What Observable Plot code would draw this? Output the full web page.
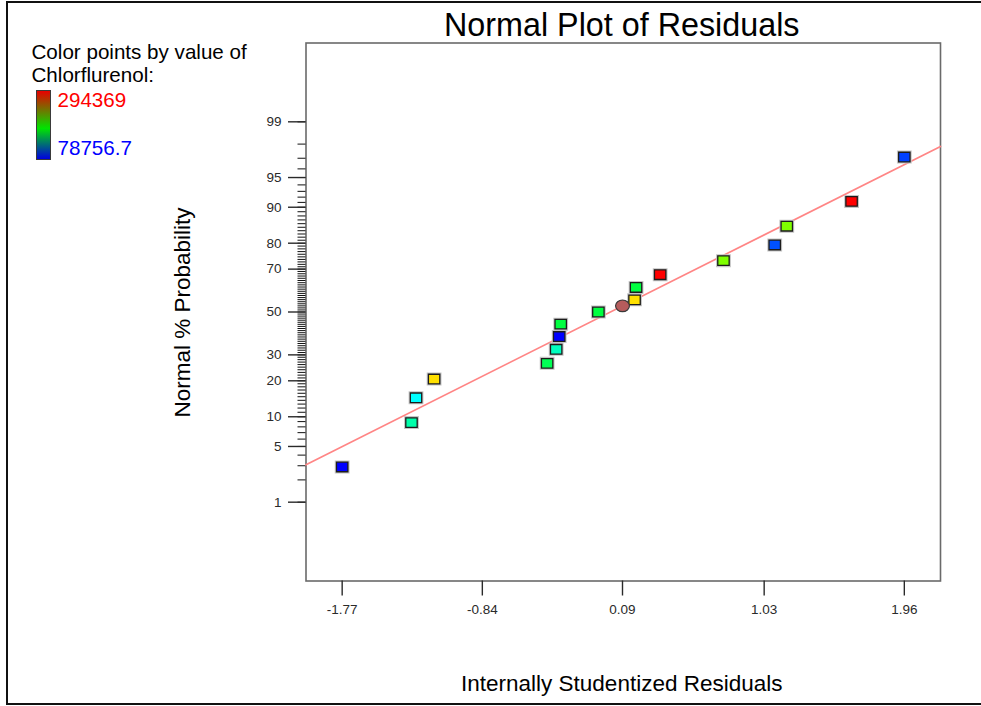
<!DOCTYPE html>
<html>
<head>
<meta charset="utf-8">
<script src="https://cdn.jsdelivr.net/npm/d3@7"></script>
<script src="https://cdn.jsdelivr.net/npm/@observablehq/plot@0.6"></script>
<style>
  html, body { margin: 0; padding: 0; background: #fff; }
  #chart { position: relative; width: 981px; height: 706px; overflow: hidden;
           font-family: "Liberation Sans", Arial, sans-serif; }
  #chart svg { position: absolute; left: 0; top: 0; }
  #border { position: absolute; left: 6px; top: 1px; width: 1000px; height: 699.5px;
            border: 2px solid #111; border-right: none; pointer-events: none; }
  #colorbar { position: absolute; left: 36px; top: 90px; width: 13px; height: 68px;
              border: 1px solid #3a3a3a;
              background: linear-gradient(to bottom, #e80000 0%, #00e400 55%, #0000e0 100%); }
</style>
</head>
<body>
<div id="chart">
  <div id="border"></div>
  <div id="colorbar"></div>
</div>
<script>
// Internally studentized residuals, in order of increasing residual
const residuals = [-1.77, -1.31, -1.28, -1.16, -0.41, -0.35, -0.33, -0.32, -0.07,
                   0.17, 0.18, 0.34, 0.76, 1.10, 1.18, 1.61, 1.96];
// Normal % probability assigned to each ordered residual
const probability = [2.9, 8.8, 14.7, 20.6, 26.5, 32.4, 38.2, 44.1, 50.0,
                     55.9, 61.8, 67.6, 73.5, 79.4, 85.3, 91.2, 97.1];
// Chlorflurenol level of each run (colours the points)
const chlorflurenol = [78756.7, 150600, 132700, 247000, 168600, 146100, 78756.7, 173100, 173100,
                       247000, 173100, 294369, 213500, 95800, 213500, 294369, 92200];

// Highlighted run, drawn as an ellipse
const highlightResidual = [0.09];
const highlightProbability = [53.0];

// Reference line: z = fitIntercept + fitSlope * residual
const fitIntercept = -0.0095;
const fitSlope = 0.925;

// Axes
const xDomain = [-2.01, 2.20];
const xTicks = [-1.77, -0.84, 0.09, 1.03, 1.96];
const probabilityRange = [0.05, 99.95];
const yTickLabels = [1, 5, 10, 20, 30, 50, 70, 80, 90, 95, 99];
const yMinorTicks = d3.range(1, 100);

// Colour legend
const colorMin = 78756.7;
const colorMax = 294369;
const legendTitle = ["Color points by value of", "Chlorflurenol:"];
const legendRangeColors = ["#ff0000", "#0000ff"];

// Inverse standard normal CDF (Acklam's rational approximation)
function probit(p) {
  const a = [-3.969683028665376e+01, 2.209460984245205e+02, -2.759285104469687e+02,
             1.383577518672690e+02, -3.066479806614716e+01, 2.506628277459239e+00];
  const b = [-5.447609879822406e+01, 1.615858368580409e+02, -1.556989798598866e+02,
             6.680131188771972e+01, -1.328068155288572e+01];
  const c = [-7.784894002430293e-03, -3.223964580411365e-01, -2.400758277161838e+00,
             -2.549732539343734e+00, 4.374664141464968e+00, 2.938163982698783e+00];
  const d = [7.784695709041462e-03, 3.224671290700398e-01, 2.445134137142996e+00,
             3.754408661907416e+00];
  const pl = 0.02425, ph = 1 - pl;
  if (p < pl) {
    const q = Math.sqrt(-2 * Math.log(p));
    return (((((c[0]*q+c[1])*q+c[2])*q+c[3])*q+c[4])*q+c[5]) / ((((d[0]*q+d[1])*q+d[2])*q+d[3])*q+1);
  }
  if (p > ph) {
    const q = Math.sqrt(-2 * Math.log(1 - p));
    return -(((((c[0]*q+c[1])*q+c[2])*q+c[3])*q+c[4])*q+c[5]) / ((((d[0]*q+d[1])*q+d[2])*q+d[3])*q+1);
  }
  const q = p - 0.5, r = q * q;
  return (((((a[0]*r+a[1])*r+a[2])*r+a[3])*r+a[4])*r+a[5])*q / (((((b[0]*r+b[1])*r+b[2])*r+b[3])*r+b[4])*r+1);
}
const z = (pct) => probit(pct / 100);

const points = residuals.map((r, i) => ({
  residual: r, z: z(probability[i]), level: chlorflurenol[i]
}));
const highlight = highlightResidual.map((r, i) => ({ residual: r, z: z(highlightProbability[i]) }));
const fitLine = xDomain.map((x) => ({ residual: x, z: fitIntercept + fitSlope * x }));

const majorZ = yTickLabels.map(z);
const minorZ = yMinorTicks.map(z);
const labelFor = (v) => {
  const i = d3.minIndex(majorZ, (m) => Math.abs(m - v));
  return String(yTickLabels[i]);
};

// Rectangular marker, slightly wider than tall
const boxSymbol = {
  draw(context, size) {
    const r = Math.sqrt(size / Math.PI);
    const w = r * 0.95, h = r * 0.8;
    context.moveTo(-w, -h); context.lineTo(w, -h); context.lineTo(w, h); context.lineTo(-w, h);
    context.closePath();
  }
};
// Elliptical marker
const ellipseSymbol = {
  draw(context, size) {
    const r = Math.sqrt(size / Math.PI);
    const rx = r * 1.1, ry = r * 0.93, k = 0.5523;
    context.moveTo(rx, 0);
    context.bezierCurveTo(rx, ry * k, rx * k, ry, 0, ry);
    context.bezierCurveTo(-rx * k, ry, -rx, ry * k, -rx, 0);
    context.bezierCurveTo(-rx, -ry * k, -rx * k, -ry, 0, -ry);
    context.bezierCurveTo(rx * k, -ry, rx, -ry * k, rx, 0);
    context.closePath();
  }
};

const marginTop = 42.5, marginLeft = 305.5;
const font = "'Liberation Sans', Arial, sans-serif";

// A single line of text placed relative to the frame's top-left corner
const note = (text, x, baseline, fontSize, fill) =>
  Plot.text([text], { text: (d) => d, frameAnchor: "top-left", textAnchor: "start", lineAnchor: "bottom",
                      dx: x - marginLeft, dy: baseline - marginTop, fontSize, fill });

const chart = Plot.plot({
  width: 981,
  height: 706,
  marginTop,
  marginRight: 41,
  marginBottom: 125.5,
  marginLeft,
  style: { fontFamily: font, fontSize: "13.5px", background: "transparent" },
  x: { domain: xDomain },
  y: { domain: probabilityRange.map(z) },
  color: {
    type: "linear",
    domain: [colorMin, colorMax],
    interpolate: (t) => d3.hsl(240 * (1 - t), 1, 0.5).formatHex()
  },
  marks: [
    Plot.frame({ stroke: "#6a6a6a", strokeWidth: 1.6 }),
    // minor ticks at every whole percent (no labels)
    Plot.axisY({ ticks: minorZ, tickSize: 8, label: null, stroke: "#111", fill: "none", strokeWidth: 1 }),
    Plot.axisY({ ticks: majorZ, tickSize: 17.5, tickPadding: 7, tickFormat: labelFor, label: null,
                 color: "#2a2a2a", strokeWidth: 1.4, fontSize: 13.5 }),
    Plot.axisX({ ticks: xTicks, tickSize: 15, tickPadding: 8, tickFormat: (d) => d.toFixed(2), label: null,
                 color: "#2a2a2a", strokeWidth: 1.4, fontSize: 13.5 }),
    Plot.line(fitLine, { x: "residual", y: "z", stroke: "#ff8585", strokeWidth: 1.7 }),
    Plot.dot(points, { x: "residual", y: "z", r: 6, symbol: boxSymbol, fill: "none",
                       stroke: "#c4c4c4", strokeWidth: 3.4 }),
    Plot.dot(points, { x: "residual", y: "z", r: 6, symbol: boxSymbol, fill: "level",
                       stroke: "#1c1c1c", strokeWidth: 1.3 }),
    Plot.dot(highlight, { x: "residual", y: "z", r: 6.3, symbol: ellipseSymbol, fill: "#b65c5c",
                          stroke: "#3a3a3a", strokeWidth: 1.2 }),
    // Title and axis labels
    Plot.text(["Normal Plot of Residuals"], { text: (d) => d, frameAnchor: "top", dx: -1.5, dy: 35 - marginTop,
                                              lineAnchor: "bottom", fontSize: 32.3, fill: "#000" }),
    Plot.text(["Internally Studentized Residuals"], { text: (d) => d, frameAnchor: "bottom", dx: -1.5, dy: 690 - 580.5,
                                                      lineAnchor: "bottom", fontSize: 22.5, fill: "#000" }),
    Plot.text(["Normal % Probability"], { text: (d) => d, frameAnchor: "left", dx: 189.5 - marginLeft, dy: 0.5,
                                          rotate: -90, textAnchor: "middle", lineAnchor: "bottom",
                                          fontSize: 22.5, fill: "#000" }),
    // Colour legend text
    note(legendTitle[0], 31, 58.3, 20.6, "#000"),
    note(legendTitle[1], 31, 81.7, 20.6, "#000"),
    note(String(colorMax), 57, 106, 20.6, legendRangeColors[0]),
    note(String(colorMin), 57, 154, 20.6, legendRangeColors[1])
  ]
});

document.getElementById("chart").appendChild(chart);
</script>
</body>
</html>
